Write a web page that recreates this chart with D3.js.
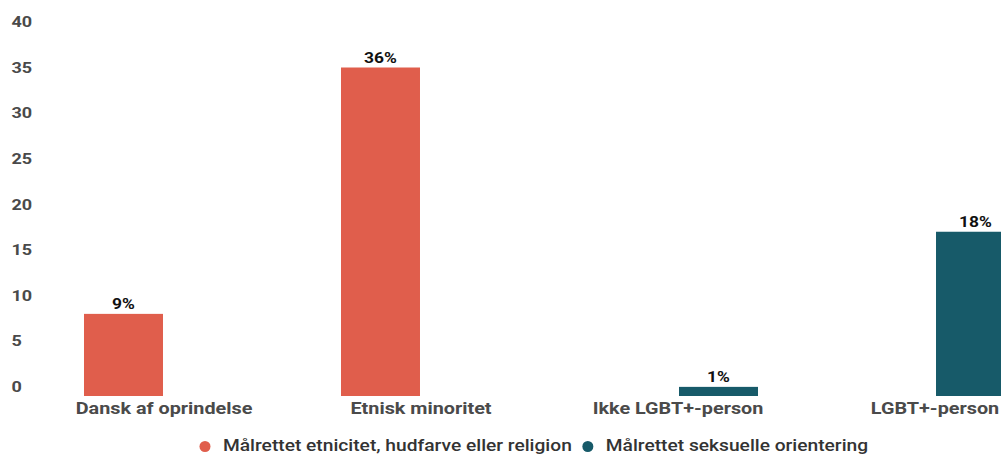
<!DOCTYPE html>
<html><head><meta charset="utf-8">
<script src="https://cdn.jsdelivr.net/npm/d3@7"></script>
<style>
html,body{margin:0;padding:0;background:#fff;}
svg{display:block;}
</style></head>
<body>
<svg id="chart" width="1001" height="454"></svg>
<script>
const categories = ["Dansk af oprindelse", "Etnisk minoritet", "Ikke LGBT+-person", "LGBT+-person"];
const seriesNames = ["Målrettet etnicitet, hudfarve eller religion", "Målrettet seksuelle orientering"];
const seriesEtnicitet = [9, 36, null, null];
const seriesSeksuel = [null, null, 1, 18];
const seriesColors = ["#e05e4c", "#175a69"];
const yTicks = [0, 5, 10, 15, 20, 25, 30, 35, 40];

const SX = 1.2; // horizontal stretch seen in the reference text
const FONT = "Roboto, 'Noto Sans', sans-serif";
const svg = d3.select("#chart");

const y = d3.scaleLinear().domain([0, 40]).range([396, 31]);
const x0 = d3.scaleBand().domain(categories).range([35.5, 1063.5]).paddingInner(0.3774).paddingOuter(0.1887);
const x1 = d3.scaleBand().domain([0, 1]).range([0, x0.bandwidth()]).paddingInner(0.025).paddingOuter(0);
const seriesData = [seriesEtnicitet, seriesSeksuel];

function stretchedText(g, x, yy, str, anchor, size, weight, fill) {
  return g.append("text")
    .attr("transform", `translate(${x},${yy}) scale(${SX},1)`)
    .attr("text-anchor", anchor)
    .attr("fill", fill)
    .style("font-family", FONT)
    .style("font-weight", weight)
    .style("font-size", size + "px")
    .text(str);
}

// Y axis
const yAxis = d3.axisLeft(y).tickValues(yTicks).tickSize(0).tickFormat(d3.format("d"));
const gy = svg.append("g").call(yAxis);
gy.select(".domain").remove();
gy.selectAll(".tick").each(function(d) {
  const t = d3.select(this);
  t.select("text").remove();
  t.attr("transform", null);
  stretchedText(t, 11.5, y(d) - 4, String(d), "start", 15, 700, "#4a4a4a");
});

// Bars
const gBars = svg.append("g");
seriesData.forEach((vals, si) => {
  categories.forEach((c, ci) => {
    const v = vals[ci];
    if (v == null) return;
    const bx = x0(c) + x1(si);
    gBars.append("rect")
      .attr("x", bx).attr("y", y(v))
      .attr("width", x1.bandwidth()).attr("height", y(0) - y(v))
      .attr("fill", seriesColors[si]);
    stretchedText(gBars, bx + x1.bandwidth() / 2, y(v) - 5, v + "%", "middle", 14.5, 700, "#111");
  });
});

// X axis labels
const xAxis = d3.axisBottom(x0).tickSize(0);
const gx = svg.append("g").call(xAxis);
gx.select(".domain").remove();
gx.selectAll(".tick").each(function(d) {
  const t = d3.select(this);
  t.select("text").remove();
  t.attr("transform", null);
  stretchedText(t, x0(d) + x0.bandwidth() / 2, 414, d, "middle", 16.5, 700, "#4a4a4a");
});

// Legend
const legend = svg.append("g");
let cx = 205;
seriesNames.forEach((n, i) => {
  legend.append("circle").attr("r", 5.5).attr("cx", cx).attr("cy", 446.5).attr("fill", seriesColors[i]);
  const t = stretchedText(legend, cx + 18, 450.5, n, "start", 16, 500, "#333");
  const w = t.node().getComputedTextLength() * SX;
  cx = cx + 18 + w + 16;
});
</script>
</body></html>
